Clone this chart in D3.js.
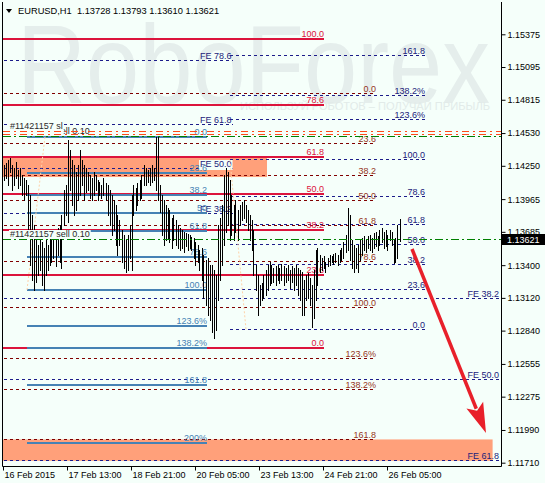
<!DOCTYPE html>
<html><head><meta charset="utf-8">
<script src="https://cdn.jsdelivr.net/npm/d3@7"></script>
<style>html,body{margin:0;padding:0;background:#f5fffa;overflow:hidden}</style>
</head><body>
<svg id="c" width="545" height="483"></svg>
<script>
// ---------------- DATA ----------------
const symbol = "EURUSD,H1";
const lastOHLC = ["1.13728", "1.13793", "1.13610", "1.13621"];
const currentPrice = 1.13621;

// hourly bar highs / lows (bar index 0 = first visible bar)
const highs = [1.14256,1.14273,1.14299,1.14316,1.14256,1.14231,1.14282,1.14214,1.14231,1.14171,
1.14145,1.14128,1.14085,1.14000,1.13829,1.13743,1.13615,1.13572,1.13632,1.13598,
1.13547,1.13615,1.13572,1.13658,1.13632,1.13683,1.13649,1.13718,1.13743,1.13829,
1.14043,1.14085,1.14470,1.14385,1.14299,1.14256,1.14197,1.14256,1.14385,1.14299,
1.14256,1.14231,1.14197,1.14171,1.14145,1.14197,1.14171,1.14128,1.14111,1.14085,
1.14145,1.14102,1.14085,1.14043,1.14000,1.13957,1.13914,1.13829,1.13786,1.13701,
1.13658,1.13615,1.13658,1.13743,1.14000,1.14085,1.14060,1.14102,1.14128,1.14171,
1.14256,1.14231,1.14214,1.14231,1.14256,1.14231,1.14496,1.14496,1.14085,1.14000,
1.13957,1.13914,1.13889,1.13872,1.13803,1.13829,1.13786,1.13743,1.13718,1.13701,
1.13683,1.13675,1.13666,1.13658,1.13640,1.13632,1.13598,1.13572,1.13530,1.13547,
1.13487,1.13444,1.13461,1.13401,1.13401,1.13359,1.13316,1.13743,1.13803,1.13914,
1.14171,1.14231,1.14197,1.14128,1.14000,1.13914,1.13957,1.13872,1.13914,1.13940,
1.13957,1.13914,1.13872,1.13829,1.13786,1.13701,1.13401,1.13316,1.13230,1.13247,
1.13316,1.13359,1.13401,1.13427,1.13401,1.13376,1.13393,1.13401,1.13376,1.13410,
1.13393,1.13376,1.13401,1.13359,1.13393,1.13376,1.13401,1.13376,1.13359,1.13341,
1.13273,1.13316,1.13333,1.13290,1.13230,1.13359,1.13530,1.13547,1.13487,1.13461,
1.13478,1.13427,1.13461,1.13487,1.13478,1.13495,1.13504,1.13487,1.13530,1.13547,
1.13598,1.13658,1.13889,1.13829,1.13615,1.13572,1.13547,1.13572,1.13615,1.13632,
1.13649,1.13615,1.13649,1.13658,1.13632,1.13675,1.13683,1.13649,1.13701,1.13718,
1.13683,1.13701,1.13658,1.13701,1.13683,1.13615,1.13632,1.13743,1.13793];
const lows = [1.14128,1.14145,1.14085,1.14197,1.14043,1.14085,1.14145,1.14060,1.14085,1.14000,
1.13957,1.14000,1.13701,1.13401,1.13273,1.13188,1.13256,1.13316,1.13359,1.13230,
1.13188,1.13316,1.13359,1.13401,1.13427,1.13461,1.13393,1.13487,1.13427,1.13376,
1.13743,1.13829,1.13769,1.14043,1.13914,1.13829,1.13872,1.13957,1.14000,1.14085,
1.13957,1.14025,1.14043,1.13974,1.13957,1.14000,1.14043,1.13957,1.14000,1.13974,
1.14000,1.13957,1.13829,1.13743,1.13658,1.13701,1.13572,1.13487,1.13572,1.13427,
1.13376,1.13341,1.13359,1.13461,1.13359,1.13829,1.13872,1.13914,1.13957,1.13974,
1.14085,1.14085,1.14111,1.14085,1.14111,1.14128,1.14043,1.13957,1.13854,1.13658,
1.13572,1.13615,1.13632,1.13598,1.13547,1.13615,1.13572,1.13547,1.13530,1.13547,
1.13513,1.13564,1.13530,1.13547,1.13530,1.13461,1.13401,1.13427,1.13359,1.13273,
1.13119,1.13059,1.12974,1.12931,1.12828,1.12777,1.12846,1.13102,1.13273,1.13401,
1.13572,1.13683,1.13743,1.13615,1.13658,1.13615,1.13683,1.13615,1.13743,1.13786,
1.13803,1.13769,1.13701,1.13615,1.13530,1.13316,1.13188,1.12974,1.13059,1.13102,
1.13119,1.13145,1.13188,1.13230,1.13247,1.13256,1.13230,1.13273,1.13247,1.13273,
1.13230,1.13256,1.13273,1.13205,1.13256,1.13188,1.13230,1.13145,1.13102,1.12974,
1.12974,1.13102,1.13119,1.13059,1.12871,1.12948,1.13102,1.13230,1.13341,1.13359,
1.13376,1.13341,1.13393,1.13401,1.13427,1.13410,1.13427,1.13401,1.13427,1.13444,
1.13461,1.13513,1.13530,1.13444,1.13376,1.13341,1.13376,1.13341,1.13444,1.13487,
1.13530,1.13513,1.13547,1.13530,1.13513,1.13547,1.13564,1.13530,1.13572,1.13598,
1.13547,1.13564,1.13530,1.13615,1.13572,1.13418,1.13427,1.13461,1.13610];

// time axis
const timeTickBars = [0, 32, 64, 96, 128, 160, 192];
const timeTickLabels = ["16 Feb 2015","17 Feb 13:00","18 Feb 21:00","20 Feb 05:00","23 Feb 13:00","24 Feb 21:00","26 Feb 05:00"];
// price axis
const priceTicks = [1.15375,1.15095,1.14815,1.14530,1.14250,1.13965,1.13685,1.13400,1.13120,1.12840,1.12555,1.12275,1.11990,1.11710];
const priceTickLabels = ["1.15375","1.15095","1.14815","1.14530","1.14250","1.13965","1.13685","1.13400","1.13120","1.12840","1.12555","1.12275","1.11990","1.11710"];

// Fibonacci retracement 1 (crimson, solid)
const fibRedLevels = [0, 23.6, 38.2, 50, 61.8, 78.6, 100];
const fibRedLabels = ["0.0","23.6","38.2","50.0","61.8","78.6","100.0"];
const fibRedPrices = [1.12694, 1.15331];       // price at 0% and 100%
const fibRedBars = [-3, 160];
// Fibonacci retracement 2 (steel blue, solid)
const fibBlueLevels = [0, 23.6, 38.2, 50, 61.8, 78.6, 100, 123.6, 138.2, 161.8, 200];
const fibBlueLabels = ["0.0","23.6","38.2","50","61.8","78.6","100.0","123.6%","138.2%","161.8","200%"];
const fibBluePrices = [1.14499, 1.13188];
const fibBlueBars = [11.5, 101.5];
const fibBlueTrend = [[11.5, 1.13188], [20.5, 1.14499]];
// Fibonacci retracement 3 (navy, dashed)
const fibNavyLevels = [0, 23.6, 38.2, 50, 61.8, 78.6, 100, 123.6, 138.2, 161.8];
const fibNavyLabels = ["0.0","23.6","38.2","50.0","61.8","78.6","100.0","123.6%","138.2%","161.8"];
const fibNavyPrices = [1.12851, 1.14300];
const fibNavyBars = [113, 210.5];
const fibNavyTrend = [[113, 1.14300], [121, 1.12851]];
// Fibonacci retracement 4 (maroon, dashed)
const fibMaroonLevels = [0, 23.6, 38.2, 50, 61.8, 78.6, 100, 123.6, 138.2, 161.8];
const fibMaroonLabels = ["0.0","23.6","38.2","50.0","61.8","78.6","100.0","123.6%","138.2%","161.8"];
const fibMaroonPrices = [1.14870, 1.13037];
const fibMaroonBars = [-3, 186];
// Fibonacci expansion A (left)
const feLeftLevels = [38.2, 50, 61.8, 78.6];
const feLeftLabels = ["FE 38.2","FE 50.0","FE 61.8","FE 78.6"];
const feLeftPrices = [1.12605, 1.15845];
const feLeftBars = [-3, 114.5, 98];
// Fibonacci expansion B (right)
const feRightLevels = [38.2, 50, 61.8];
const feRightLabels = ["FE 38.2","FE 50.0","FE 61.8"];
const feRightPrices = [1.15364, 1.09477];
const feRightBars = [-3, 252, 247.5];

// target zones
const zones = [
  {bars: [-3, 131.5], prices: [1.14325, 1.14154]},
  {bars: [-3, 244.3], prices: [1.11909, 1.11726]}
];
// order lines
const slPrices = [1.14541, 1.14521];
const openPrices = [1.14499, 1.13618];
const slLabel = "#11421157 sl";
const sellLabel = "#11421157 sell 0.10";
// forecast arrow
const arrowFrom = [204, 1.13538];
const arrowTo = [241, 1.11965];

// ---------------- DRAW ----------------
const FONT = "'Liberation Sans', Arial, sans-serif";
const BG = "#f5fffa";
const svg = d3.select("#c").attr("font-family", FONT);
svg.append("rect").attr("width", 545).attr("height", 483).attr("fill", BG);

const x = d3.scaleLinear().domain([0, 248]).range([4, 500]);
const y = d3.scaleLinear().domain([1.11710, 1.15375]).range([462.7, 34.3]);

const PL = 3, PR = 501, PT = 0, PB = 466;
svg.append("defs").append("clipPath").attr("id", "clip")
  .append("rect").attr("x", PL).attr("y", PT).attr("width", PR - PL).attr("height", PB - PT);
const g = svg.append("g").attr("clip-path", "url(#clip)");

// watermark
g.append("text").attr("x", 17).attr("y", 103).attr("font-size", 112)
  .attr("textLength", 473).attr("lengthAdjust", "spacingAndGlyphs")
  .attr("fill", "#e5eeec").text("RoboForex");
g.append("text").attr("x", 240).attr("y", 110).attr("font-size", 11.5)
  .attr("textLength", 250).attr("lengthAdjust", "spacingAndGlyphs")
  .attr("fill", "#e2ebe9").text("ИСПОЛЬЗУЙ РОБОТОВ – ПОЛУЧАЙ ПРИБЫЛЬ");

// zones
zones.forEach(z => {
  g.append("rect").attr("x", x(z.bars[0])).attr("width", x(z.bars[1]) - x(z.bars[0]))
    .attr("y", y(z.prices[0])).attr("height", y(z.prices[1]) - y(z.prices[0]))
    .attr("fill", "#ffa07a");
});

const dashG = g.append("g");
const solidG = g.append("g");
const labelG = g.append("g").attr("font-size", 9);

function crisp(v, w) { return w % 2 ? Math.round(v - 0.5) + 0.5 : Math.round(v); }

function fib(levels, labels, prices, bars, color, width, dash, labelColor, layer, labelAnchor) {
  levels.forEach((lv, k) => {
    const p = prices[0] + (prices[1] - prices[0]) * lv / 100;
    const yy = crisp(y(p), width);
    const ln = layer.append("line").attr("x1", x(bars[0])).attr("x2", x(bars[1]))
      .attr("y1", yy).attr("y2", yy).attr("stroke", color).attr("stroke-width", width);
    if (dash) ln.attr("stroke-dasharray", dash);
    const lx = bars.length > 2 ? x(bars[2]) : x(bars[1]);
    labelG.append("text").attr("x", lx).attr("y", Math.round(yy) - 2)
      .attr("text-anchor", labelAnchor || "end").attr("fill", labelColor).text(labels[k]);
  });
}

// dashed objects
fib(fibMaroonLevels, fibMaroonLabels, fibMaroonPrices, fibMaroonBars, "#800000", 1, "3,3", "#96361c", dashG);
fib(fibNavyLevels, fibNavyLabels, fibNavyPrices, fibNavyBars, "#1c1c8a", 1, "3,3", "#22227a", dashG);
fib(feLeftLevels, feLeftLabels, feLeftPrices, feLeftBars, "#1c1c8a", 1, "3,3", "#22227a", dashG, "start");
fib(feRightLevels, feRightLabels, feRightPrices, feRightBars, "#1c1c8a", 1, "3,3", "#22227a", dashG);

// solid fibs
fib(fibRedLevels, fibRedLabels, fibRedPrices, fibRedBars, "#dc143c", 2, null, "#dc143c", solidG);
fib(fibBlueLevels, fibBlueLabels, fibBluePrices, fibBlueBars, "#4682b4", 2, null, "#4682b4", solidG);

// fib trend lines (dotted)
[fibBlueTrend, fibNavyTrend].forEach(t => {
  g.append("line").attr("x1", x(t[0][0])).attr("y1", y(t[0][1]))
    .attr("x2", x(t[1][0])).attr("y2", y(t[1][1]))
    .attr("stroke", "#ffd2a8").attr("stroke-width", 1).attr("stroke-dasharray", "2,2");
});

// background box behind "FE 50.0" left label
labelG.selectAll("text").filter(function () { return d3.select(this).text() === "FE 50.0" && +d3.select(this).attr("x") < 300; })
  .each(function () {
    const b = this.getBBox();
    d3.select(this.parentNode).insert("rect", () => this)
      .attr("x", b.x - 1).attr("y", b.y + 1).attr("width", b.width + 2).attr("height", b.height)
      .attr("fill", BG);
  });

// price bars
const barG = g.append("g");
highs.forEach((h, i) => {
  const xx = crisp(x(i), 1);
  barG.append("line").attr("x1", xx).attr("x2", xx)
    .attr("y1", Math.round(y(h))).attr("y2", Math.round(y(lows[i])) + 1)
    .attr("stroke", "#000").attr("stroke-width", 1);
});

// order labels with background
function boxedLabel(txt, lx, baseY, extraBottom) {
  const t = g.append("text").attr("x", lx).attr("y", baseY)
    .attr("font-size", 9).attr("fill", "#2a2a2a").text(txt);
  const b = t.node().getBBox();
  g.insert("rect", () => t.node()).attr("x", b.x - 1).attr("y", b.y + 1)
    .attr("width", b.width + 2).attr("height", b.height - 1 + (extraBottom || 0)).attr("fill", BG);
}
boxedLabel(sellLabel, 10, Math.round(y(openPrices[0])) - 3);
boxedLabel(slLabel, 10, Math.round(y(slPrices[0])) - 3, 3);
boxedLabel(sellLabel, 10, Math.round(y(openPrices[1])) - 3);

// order lines (drawn over labels)
const orderG = g.append("g");
slPrices.forEach(p => {
  const yy = crisp(y(p), 1);
  orderG.append("line").attr("x1", PL).attr("x2", PR).attr("y1", yy).attr("y2", yy)
    .attr("stroke", "#ff4a1a").attr("stroke-dasharray", "7,4,2,4");
});
openPrices.forEach(p => {
  const yy = crisp(y(p), 1);
  orderG.append("line").attr("x1", PL).attr("x2", PR).attr("y1", yy).attr("y2", yy)
    .attr("stroke", "#008000").attr("stroke-dasharray", "8,3,2,3");
});

// forecast arrow
(function () {
  const x0 = x(arrowFrom[0]), y0 = y(arrowFrom[1]);
  const x1 = x(arrowTo[0]), y1 = y(arrowTo[1]);
  const dx = x1 - x0, dy = y1 - y0, L = Math.hypot(dx, dy);
  const ux = dx / L, uy = dy / L, hl = 30, hw = 9;
  const bx = x1 - ux * hl, by = y1 - uy * hl;
  g.append("line").attr("x1", x0).attr("y1", y0).attr("x2", bx + ux * 4).attr("y2", by + uy * 4)
    .attr("stroke", "#e8202a").attr("stroke-width", 3.5);
  g.append("path").attr("d", `M${x1},${y1}L${bx - uy * hw},${by + ux * hw}L${bx + ux * 6},${by + uy * 6}L${bx + uy * hw},${by - ux * hw}Z`)
    .attr("fill", "#e8202a");
})();

// frame
svg.append("line").attr("x1", 2.5).attr("x2", 2.5).attr("y1", 2).attr("y2", PB + 0.5).attr("stroke", "#000");
svg.append("line").attr("x1", PR + 0.5).attr("x2", PR + 0.5).attr("y1", 2).attr("y2", PB + 0.5).attr("stroke", "#000");
svg.append("line").attr("x1", 2.5).attr("x2", PR + 0.5).attr("y1", PB + 0.5).attr("y2", PB + 0.5).attr("stroke", "#000");

// price axis
const yAxis = d3.axisRight(y).tickValues(priceTicks).tickSize(4).tickPadding(2)
  .tickFormat((d, i) => priceTickLabels[i]);
const ya = svg.append("g").attr("transform", `translate(${PR + 0.5},0)`).call(yAxis);
ya.select(".domain").remove();
ya.selectAll("text").attr("font-size", 9).attr("font-family", FONT).attr("fill", "#000");

// current price box
const cy = y(currentPrice);
svg.append("rect").attr("x", 502).attr("y", Math.round(cy) - 5).attr("width", 43).attr("height", 11).attr("fill", "#000");
svg.append("text").attr("x", 507).attr("y", Math.round(cy) + 4).attr("font-size", 9).attr("fill", "#fff").text(currentPrice.toFixed(5));

// time axis
const xAxis = d3.axisBottom(x).tickValues(timeTickBars).tickSize(4).tickPadding(2)
  .tickFormat((d, i) => timeTickLabels[i]);
const xa = svg.append("g").attr("transform", `translate(-1,${PB + 0.5})`).call(xAxis);
xa.select(".domain").remove();
xa.selectAll("text").attr("font-size", 9).attr("font-family", FONT).attr("fill", "#000")
  .attr("text-anchor", "start").attr("dx", 1).attr("dy", "0.6em");

// title
svg.append("path").attr("d", "M6,9L12,9L9,13Z").attr("fill", "#000");
svg.append("text").attr("x", 18).attr("y", 14).attr("font-size", 9.3).attr("fill", "#000")
  .style("white-space", "pre").text(symbol + "  " + lastOHLC.join(" "));
</script>
</body></html>
